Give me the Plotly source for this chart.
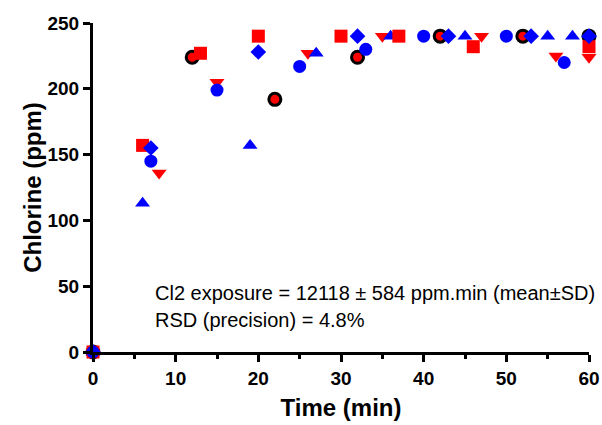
import plotly.graph_objects as go

# Run A (black-ringed red circles)
ring_t = [0, 12, 22, 32, 42, 52, 60]
ring_cl = [0, 224, 192, 224, 240, 240, 240]
# Run B (red squares)
sq_t = [0, 6, 13, 20, 30, 37, 46, 60]
sq_cl = [0, 157, 227, 240, 240, 240, 232, 232]
# Run C (red down triangles)
tdn_t = [0, 8, 15, 26, 35, 47, 56, 60]
tdn_cl = [0, 136, 205, 227, 240, 240, 225, 224]
# Run D (blue circles)
circ_t = [0, 7, 15, 25, 33, 40, 50, 57]
circ_cl = [0, 145, 199, 217, 230, 240, 240, 220]
# Run E (blue diamonds)
dia_t = [0, 7, 20, 32, 43, 53, 60]
dia_cl = [0, 155, 228, 240, 240, 240, 240]
# Run F (blue up triangles)
tup_t = [0, 6, 19, 27, 36, 45, 55, 58]
tup_cl = [0, 113, 157, 227, 240, 240, 240, 240]

RED = "#FF0000"
BLUE = "#0000FF"
FONT = "Arial, Liberation Sans, sans-serif"

fig = go.Figure()

def add(t, y, symbol, color, size, line_color=None, line_width=0):
    fig.add_trace(go.Scatter(
        x=t, y=y, mode="markers", cliponaxis=False, showlegend=False,
        marker=dict(symbol=symbol, color=color, size=size,
                    line=dict(color=line_color or color, width=line_width))
    ))

add(ring_t, ring_cl, "circle", RED, 12, "black", 3)
add(tdn_t, tdn_cl, "triangle-down", RED, 13)
add(tup_t, tup_cl, "triangle-up", BLUE, 13)
add(sq_t, sq_cl, "square", RED, 13)
add(circ_t, circ_cl, "circle", BLUE, 13)
add(dia_t, dia_cl, "diamond", BLUE, 12)

fig.add_annotation(x=7.2, y=44.8, xref="x", yref="y", xanchor="left", yanchor="middle",
                   text="Cl2 exposure = 12118 ± 584 ppm.min (mean±SD)", showarrow=False,
                   font=dict(family=FONT, size=20, color="black"))
fig.add_annotation(x=7.2, y=24.3, xref="x", yref="y", xanchor="left", yanchor="middle",
                   text="RSD (precision) = 4.8%", showarrow=False,
                   font=dict(family=FONT, size=20, color="black"))

fig.update_layout(
    width=602, height=425,
    margin=dict(l=93, r=13, t=23, b=73),
    plot_bgcolor="white", paper_bgcolor="white",
    font=dict(family=FONT, color="black"),
    xaxis=dict(
        range=[0, 60], tickvals=[0, 10, 20, 30, 40, 50, 60],
        showgrid=False, zeroline=False, automargin=False,
        showline=True, linecolor="black", linewidth=3,
        ticks="outside", ticklen=7, tickwidth=3, tickcolor="black",
        minor=dict(dtick=5, tick0=0, ticks="outside", ticklen=4, tickwidth=3, tickcolor="black"),
        tickfont=dict(size=19, weight="bold"),
        title=dict(text="Time (min)", font=dict(size=24, weight="bold"), standoff=12),
    ),
    yaxis=dict(
        range=[0, 250], tickvals=[0, 50, 100, 150, 200, 250],
        showgrid=False, zeroline=False, automargin=False,
        showline=True, linecolor="black", linewidth=3,
        ticks="outside", ticklen=7, tickwidth=3, tickcolor="black",
        tickfont=dict(size=19, weight="bold"),
        title=dict(text="Chlorine (ppm)", font=dict(size=24, weight="bold"), standoff=0),
    ),
)

# drop the default page margin so the figure fills the window exactly
fig.write_html("out.html", config={"displayModeBar": False},
               post_script="document.body.style.margin='0';")
